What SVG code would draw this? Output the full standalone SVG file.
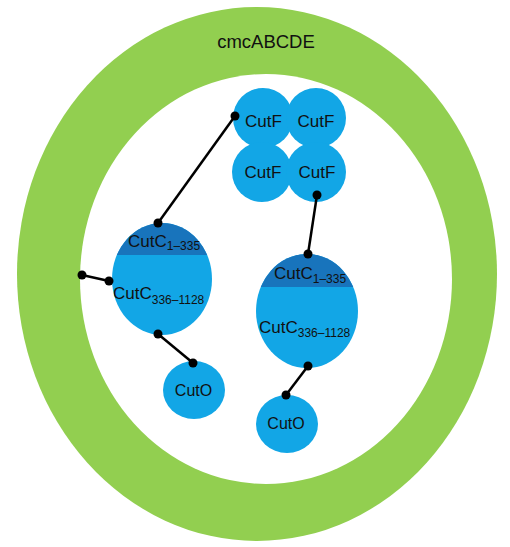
<svg xmlns="http://www.w3.org/2000/svg" width="510" height="547" viewBox="0 0 510 547">
<style>
.lbl{font-family:"Liberation Sans",Arial,sans-serif;font-size:17px;fill:#111;}
.sub{font-size:12px;}
.blue{fill:#12a6e6;}
.dark{fill:#1874bc;}
.ln{stroke:#000;stroke-width:2.5;fill:none;}
.dot{fill:#000;}
</style>
<defs>
<clipPath id="clipL"><rect x="100" y="200" width="130" height="55"/></clipPath>
<clipPath id="clipR"><rect x="240" y="240" width="130" height="47"/></clipPath>
</defs>
<rect width="510" height="547" fill="#fff"/>
<g id="cmcABCDE">
<ellipse cx="257" cy="274" rx="240" ry="267" fill="#92cf50"/>
<ellipse cx="266" cy="279" rx="186" ry="205" fill="#fff"/>
<text x="266" y="48" text-anchor="middle" class="lbl" style="font-size:18.5px">cmcABCDE</text>
</g>
<g id="cutf-tl"><circle cx="263" cy="118" r="30" class="blue"/><text x="263.5" y="127" text-anchor="middle" class="lbl">CutF</text></g>
<g id="cutf-tr"><circle cx="316" cy="118" r="30" class="blue"/><text x="316" y="127" text-anchor="middle" class="lbl">CutF</text></g>
<g id="cutf-bl"><circle cx="262" cy="172" r="30" class="blue"/><text x="263" y="178" text-anchor="middle" class="lbl">CutF</text></g>
<g id="cutf-br"><circle cx="316" cy="172" r="30" class="blue"/><text x="317" y="178" text-anchor="middle" class="lbl">CutF</text></g>
<g id="cutc-left">
<ellipse cx="162" cy="279" rx="50" ry="56" class="blue"/>
<ellipse cx="162" cy="279" rx="50" ry="56" class="dark" clip-path="url(#clipL)"/>
<text x="128" y="247" class="lbl">CutC<tspan class="sub" dy="3">1–335</tspan></text>
<text x="113" y="299" class="lbl">CutC<tspan class="sub" dy="5">336–1128</tspan></text>
</g>
<g id="cuto-left"><ellipse cx="194" cy="390" rx="31" ry="29" class="blue"/><text x="193.5" y="396" text-anchor="middle" class="lbl" style="font-size:16px">CutO</text></g>
<g id="cutc-right">
<ellipse cx="307" cy="311" rx="51" ry="57" class="blue"/>
<ellipse cx="307" cy="311" rx="51" ry="57" class="dark" clip-path="url(#clipR)"/>
<text x="274" y="279" class="lbl">CutC<tspan class="sub" dy="4">1–335</tspan></text>
<text x="259" y="333" class="lbl">CutC<tspan class="sub" dy="4">336–1128</tspan></text>
</g>
<g id="cuto-right"><ellipse cx="287" cy="424" rx="31" ry="29" class="blue"/><text x="286" y="429" text-anchor="middle" class="lbl" style="font-size:16px">CutO</text></g>
<g id="connectors">
<line x1="235" y1="116" x2="158" y2="223" class="ln"/>
<line x1="82" y1="275" x2="109" y2="281" class="ln"/>
<line x1="158" y1="334" x2="193" y2="363" class="ln"/>
<line x1="317" y1="195" x2="308" y2="254" class="ln"/>
<line x1="308" y1="366" x2="286" y2="395" class="ln"/>
<circle cx="235" cy="116" r="4.5" class="dot"/>
<circle cx="158" cy="223" r="4.5" class="dot"/>
<circle cx="82" cy="275" r="4.5" class="dot"/>
<circle cx="109" cy="281" r="4.5" class="dot"/>
<circle cx="158" cy="334" r="4.5" class="dot"/>
<circle cx="193" cy="363" r="4.5" class="dot"/>
<circle cx="317" cy="195" r="4.5" class="dot"/>
<circle cx="308" cy="254" r="4.5" class="dot"/>
<circle cx="308" cy="366" r="4.5" class="dot"/>
<circle cx="286" cy="395" r="4.5" class="dot"/>
</g>
</svg>
